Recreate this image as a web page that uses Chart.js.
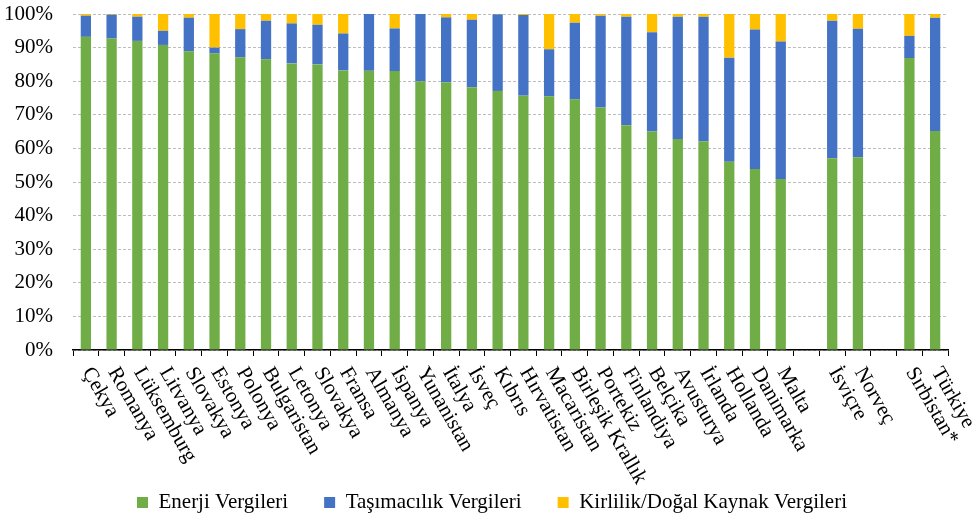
<!DOCTYPE html>
<html>
<head>
<meta charset="utf-8">
<script src="https://cdn.jsdelivr.net/npm/chart.js@4/dist/chart.umd.min.js"></script>
<style>
html,body{margin:0;padding:0;background:#fff;}
#wrap{width:979px;height:518px;position:relative;}
</style>
</head>
<body>
<div id="wrap"><canvas id="c"></canvas></div>
<script>
const categories = ['Çekya','Romanya','Lüksemburg','Litvanya','Slovakya','Estonya','Polonya','Bulgaristan','Letonya','Slovakya','Fransa','Almanya','İspanya','Yunanistan','İtalya','İsveç','Kıbrıs','Hırvatistan','Macaristan','Birleşik Krallık','Portekiz','Finlandiya','Belçika','Avusturya','İrlanda','Hollanda','Danimarka','Malta','','İsviçre','Norveç','','Sırbistan*','Türkiye'];
const energy    = [93.2,92.7,92.0,90.8,88.9,88.3,87.1,86.5,85.3,85.0,83.2,83.1,83.0,80.0,79.7,78.2,77.1,75.7,75.5,74.6,72.2,66.9,65.0,62.8,62.1,56.0,53.9,50.9,null,57.1,57.4,null,86.9,65.2];
const transport = [6.3,7.1,7.2,4.2,10.0,1.7,8.4,11.5,11.9,11.8,11.0,16.9,12.7,20.0,19.3,20.1,22.8,24.0,14.0,22.8,27.3,32.3,29.6,36.4,37.1,31.0,41.5,40.9,null,40.9,38.2,null,6.6,33.7];
const pollution = [0.5,0.2,0.8,5.0,1.1,10.0,4.5,2.0,2.8,3.2,5.8,0.0,4.3,0.0,1.0,1.7,0.1,0.3,10.5,2.6,0.5,0.8,5.4,0.8,0.8,13.0,4.6,8.2,null,2.0,4.4,null,6.5,1.1];
const seriesNames = ['Enerji Vergileri','Taşımacılık Vergileri','Kirlilik/Doğal Kaynak Vergileri'];
const yTicks = [0,10,20,30,40,50,60,70,80,90,100];

const FONT = "'Liberation Serif','Times New Roman',serif";

const rotatedLabels = {
  id: 'rotatedLabels',
  afterDraw(chart) {
    const xs = chart.scales.x;
    const ctx = chart.ctx;
    ctx.save();
    ctx.font = '21px ' + FONT;
    ctx.fillStyle = '#000';
    ctx.textAlign = 'left';
    ctx.textBaseline = 'middle';
    const ang = 60 * Math.PI / 180;
    categories.forEach((lab, i) => {
      if (!lab) return;
      const x = xs.getPixelForValue(i);
      ctx.save();
      ctx.translate(x + 1, xs.top + 19);
      ctx.rotate(ang);
      ctx.fillText(lab, 0, 0);
      ctx.restore();
    });
    ctx.restore();
  }
};

const legendShift = {
  id: 'legendShift',
  afterLayout(chart) {
    const lg = chart.legend;
    if (lg) { lg.left += 18; lg.right += 18; }
  }
};

new Chart(document.getElementById('c'), {
  type: 'bar',
  data: {
    labels: categories,
    datasets: [
      {label: seriesNames[0], data: energy, backgroundColor: '#70AD47', borderWidth: 0},
      {label: seriesNames[1], data: transport, backgroundColor: '#4472C4', borderWidth: 0},
      {label: seriesNames[2], data: pollution, backgroundColor: '#FFC000', borderWidth: 0}
    ]
  },
  options: {
    responsive: true,
    maintainAspectRatio: false,
    animation: false,
    layout: {padding: {left: 0, right: 31, top: 14, bottom: -5}},
    datasets: {bar: {categoryPercentage: 1.0, barPercentage: 0.4}},
    plugins: {
      tooltip: {enabled: false},
      legend: {
        position: 'bottom',
        labels: {
          font: {family: FONT, size: 21},
          color: '#000',
          boxWidth: 11,
          boxHeight: 11,
          padding: 36
        }
      }
    },
    scales: {
      x: {
        stacked: true,
        grid: {offset: true, drawOnChartArea: false, drawTicks: true, tickLength: 6, color: '#000', lineWidth: 1},
        border: {display: true, color: '#000', width: 1.5},
        ticks: {display: false},
        afterFit(s) { s.height = 106; }
      },
      y: {
        stacked: true,
        min: 0,
        max: 100,
        afterBuildTicks(s) { s.ticks = yTicks.map(v => ({value: v})); },
        grid: {color: '#bdbdbd', lineWidth: 1, drawTicks: true, tickLength: 19, tickColor: 'rgba(0,0,0,0)'},
        border: {display: false, dash: [3, 2]},
        ticks: {
          font: {family: FONT, size: 21},
          color: '#000',
          padding: 1,
          callback: v => v + '%'
        },
        afterFit(s) { s.width = 73; }
      }
    }
  },
  plugins: [rotatedLabels, legendShift]
});
</script>
</body>
</html>
